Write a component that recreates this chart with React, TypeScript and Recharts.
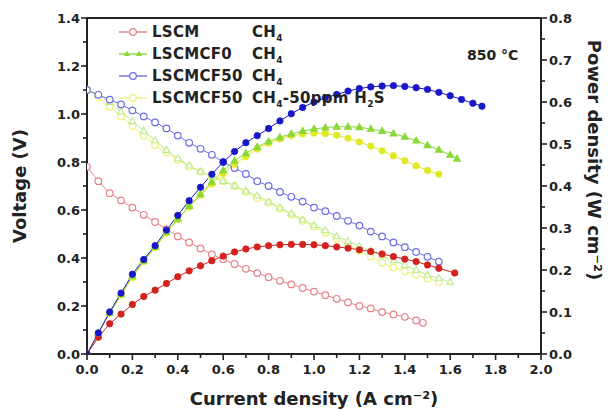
import {
  ComposedChart,
  Line,
  XAxis,
  YAxis,
  ReferenceLine,
  Legend,
  Customized,
} from "recharts"

const FONT = "'DejaVu Sans', sans-serif"
const INK = "#222"

// current density (A cm-2) and cell voltage (V)
const lscmVoltI = [0, 0.05, 0.1, 0.15, 0.2, 0.25, 0.3, 0.35, 0.4, 0.45, 0.5, 0.55, 0.6, 0.65, 0.7, 0.75, 0.8, 0.85, 0.9, 0.95, 1.0, 1.05, 1.1, 1.15, 1.2, 1.25, 1.3, 1.35, 1.4, 1.45, 1.48]
const lscmVolt = [0.78, 0.72, 0.67, 0.64, 0.61, 0.58, 0.55, 0.52, 0.49, 0.465, 0.44, 0.415, 0.395, 0.375, 0.355, 0.337, 0.32, 0.305, 0.29, 0.275, 0.26, 0.245, 0.23, 0.215, 0.2, 0.19, 0.175, 0.165, 0.155, 0.14, 0.13]

const cf0VoltI = [0, 0.05, 0.1, 0.15, 0.2, 0.25, 0.3, 0.35, 0.4, 0.45, 0.5, 0.55, 0.6, 0.65, 0.7, 0.75, 0.8, 0.85, 0.9, 0.95, 1.0, 1.05, 1.1, 1.15, 1.2, 1.25, 1.3, 1.35, 1.4, 1.45, 1.5, 1.55, 1.6]
const cf0Volt = [1.1, 1.08, 1.05, 1.01, 0.97, 0.93, 0.89, 0.85, 0.815, 0.785, 0.76, 0.74, 0.72, 0.7, 0.68, 0.66, 0.635, 0.61, 0.585, 0.56, 0.536, 0.515, 0.49, 0.47, 0.45, 0.43, 0.41, 0.39, 0.37, 0.35, 0.33, 0.315, 0.3]

const cf50VoltI = [0, 0.05, 0.1, 0.15, 0.2, 0.25, 0.3, 0.35, 0.4, 0.45, 0.5, 0.55, 0.6, 0.65, 0.7, 0.75, 0.8, 0.85, 0.9, 0.95, 1.0, 1.05, 1.1, 1.15, 1.2, 1.25, 1.3, 1.35, 1.4, 1.45, 1.5, 1.55]
const cf50Volt = [1.1, 1.08, 1.06, 1.04, 1.015, 0.99, 0.965, 0.94, 0.91, 0.88, 0.855, 0.83, 0.8, 0.775, 0.75, 0.72, 0.7, 0.675, 0.655, 0.635, 0.61, 0.595, 0.575, 0.555, 0.535, 0.51, 0.49, 0.465, 0.445, 0.425, 0.405, 0.385]

const h2sVoltI = [0, 0.05, 0.1, 0.15, 0.2, 0.25, 0.3, 0.35, 0.4, 0.45, 0.5, 0.55, 0.6, 0.65, 0.7, 0.75, 0.8, 0.85, 0.9, 0.95, 1.0, 1.05, 1.1, 1.15, 1.2, 1.25, 1.3, 1.35, 1.4, 1.45, 1.5, 1.55]
const h2sVolt = [1.1, 1.07, 1.03, 0.99, 0.95, 0.91, 0.87, 0.84, 0.81, 0.78, 0.76, 0.74, 0.72, 0.7, 0.675, 0.65, 0.63, 0.605, 0.58, 0.555, 0.53, 0.505, 0.48, 0.455, 0.43, 0.405, 0.38, 0.36, 0.345, 0.33, 0.315, 0.3]

// current density (A cm-2) and power density (W cm-2)
const lscmPowI = [0, 0.05, 0.1, 0.15, 0.2, 0.25, 0.3, 0.35, 0.4, 0.45, 0.5, 0.55, 0.6, 0.65, 0.7, 0.75, 0.8, 0.85, 0.9, 0.95, 1.0, 1.05, 1.1, 1.15, 1.2, 1.25, 1.3, 1.35, 1.4, 1.45, 1.5, 1.55, 1.62]
const lscmPow = [0, 0.04, 0.072, 0.095, 0.118, 0.137, 0.152, 0.168, 0.184, 0.198, 0.21, 0.222, 0.233, 0.243, 0.25, 0.255, 0.258, 0.26, 0.261, 0.261, 0.26, 0.258, 0.255, 0.252, 0.248, 0.244, 0.238, 0.232, 0.226, 0.22, 0.212, 0.204, 0.193]

const cf0PowI = [0, 0.05, 0.1, 0.15, 0.2, 0.25, 0.3, 0.35, 0.4, 0.45, 0.5, 0.55, 0.6, 0.65, 0.7, 0.75, 0.8, 0.85, 0.9, 0.95, 1.0, 1.05, 1.1, 1.15, 1.2, 1.25, 1.3, 1.35, 1.4, 1.45, 1.5, 1.55, 1.6, 1.63]
const cf0Pow = [0, 0.05, 0.098, 0.142, 0.185, 0.222, 0.255, 0.29, 0.322, 0.352, 0.38, 0.41, 0.437, 0.46, 0.478, 0.493, 0.506, 0.516, 0.524, 0.531, 0.536, 0.539, 0.541, 0.541, 0.54, 0.536, 0.531, 0.525, 0.517, 0.508, 0.497, 0.486, 0.474, 0.465]

const cf50PowI = [0, 0.05, 0.1, 0.15, 0.2, 0.25, 0.3, 0.35, 0.4, 0.45, 0.5, 0.55, 0.6, 0.65, 0.7, 0.75, 0.8, 0.85, 0.9, 0.95, 1.0, 1.05, 1.1, 1.15, 1.2, 1.25, 1.3, 1.35, 1.4, 1.45, 1.5, 1.55, 1.6, 1.65, 1.7, 1.74]
const cf50Pow = [0, 0.05, 0.1, 0.145, 0.19, 0.225, 0.258, 0.295, 0.33, 0.365, 0.397, 0.428, 0.457, 0.482, 0.503, 0.52, 0.537, 0.555, 0.572, 0.587, 0.6, 0.61, 0.618, 0.626, 0.632, 0.636, 0.638, 0.639, 0.637, 0.634, 0.63, 0.623, 0.615, 0.606, 0.597, 0.59]

const h2sPowI = [0, 0.05, 0.1, 0.15, 0.2, 0.25, 0.3, 0.35, 0.4, 0.45, 0.5, 0.55, 0.6, 0.65, 0.7, 0.75, 0.8, 0.85, 0.9, 0.95, 1.0, 1.05, 1.1, 1.15, 1.2, 1.25, 1.3, 1.35, 1.4, 1.45, 1.5, 1.55]
const h2sPow = [0, 0.05, 0.097, 0.14, 0.182, 0.22, 0.254, 0.288, 0.32, 0.35, 0.378, 0.405, 0.43, 0.452, 0.47, 0.488, 0.502, 0.512, 0.52, 0.524, 0.526, 0.525, 0.521, 0.514, 0.505, 0.495, 0.484, 0.472, 0.46, 0.448, 0.437, 0.428]

// axis ticks (minor ones get no label)
const currentTicks = [0, 0.1, 0.2, 0.3, 0.4, 0.5, 0.6, 0.7, 0.8, 0.9, 1.0, 1.1, 1.2, 1.3, 1.4, 1.5, 1.6, 1.7, 1.8, 1.9, 2.0]
const voltTicks = [0, 0.1, 0.2, 0.3, 0.4, 0.5, 0.6, 0.7, 0.8, 0.9, 1.0, 1.1, 1.2, 1.3, 1.4]
const powerTicks = [0, 0.05, 0.1, 0.15, 0.2, 0.25, 0.3, 0.35, 0.4, 0.45, 0.5, 0.55, 0.6, 0.65, 0.7, 0.75, 0.8]

const legendNames = ["LSCM", "LSCMCF0", "LSCMCF50", "LSCMCF50"]

const colors = {
  lscm: "#d2221e",
  lscmOpen: "#e4848a",
  cf0: "#8ad83a",
  cf0Open: "#b8ec88",
  cf50: "#1818c8",
  cf50Open: "#6e6ee4",
  h2s: "#e0ea24",
  h2sOpen: "#eef27c",
}

const toPoints = (xs: number[], ys: number[]) =>
  xs.map((x, i) => ({ i: x, y: ys[i] }))

const isMajor = (v: number, step: number) =>
  Math.abs(v / step - Math.round(v / step)) < 1e-6

const openCircle = (color: string) => (p: any) => (
  <circle key={p.index} cx={p.cx} cy={p.cy} r={3.3} fill="#fff" stroke={color} strokeWidth={1.2} />
)

const filledCircle = (color: string) => (p: any) => (
  <circle key={p.index} cx={p.cx} cy={p.cy} r={3.2} fill={color} stroke={color} strokeWidth={0.8} />
)

const triangle = (color: string, open: boolean) => (p: any) => (
  <path
    key={p.index}
    d={`M${p.cx},${p.cy - 3.6}L${p.cx + 3.4},${p.cy + 2.4}L${p.cx - 3.4},${p.cy + 2.4}Z`}
    fill={open ? "#fff" : color}
    stroke={color}
    strokeWidth={1.1}
  />
)

function BottomTick({ x, y, payload }: any) {
  const major = isMajor(payload.value, 0.2)
  return (
    <g>
      <line x1={x} x2={x} y1={y} y2={y + (major ? 6 : 4)} stroke={INK} strokeWidth={1.6} />
      {major && (
        <text x={x} y={y + 20} textAnchor="middle" fontFamily={FONT} fontWeight="bold" fontSize={13} fill={INK}>
          {payload.value.toFixed(1)}
        </text>
      )}
    </g>
  )
}

function LeftTick({ x, y, payload }: any) {
  const major = isMajor(payload.value, 0.2)
  return (
    <g>
      <line x1={x} x2={x - (major ? 6 : 4)} y1={y} y2={y} stroke={INK} strokeWidth={1.6} />
      {major && (
        <text x={x - 7} y={y + 5} textAnchor="end" fontFamily={FONT} fontWeight="bold" fontSize={13} fill={INK}>
          {payload.value.toFixed(1)}
        </text>
      )}
    </g>
  )
}

function RightTick({ x, y, payload }: any) {
  const major = isMajor(payload.value, 0.1)
  return (
    <g>
      <line x1={x} x2={x + (major ? 6 : 4)} y1={y} y2={y} stroke={INK} strokeWidth={1.6} />
      {major && (
        <text x={x + 8} y={y + 5} textAnchor="start" fontFamily={FONT} fontWeight="bold" fontSize={13} fill={INK}>
          {payload.value.toFixed(1)}
        </text>
      )}
    </g>
  )
}

function Sample({ color, shape }: { color: string; shape: "circle" | "tri" }) {
  return (
    <svg width={30} height={12} style={{ flex: "none" }}>
      <line x1={1} x2={29} y1={6} y2={6} stroke={color} strokeWidth={1.4} />
      {shape === "circle" ? (
        <circle cx={15} cy={6} r={3.3} fill="#fff" stroke={color} strokeWidth={1.3} />
      ) : (
        <>
          <path d="M9,2.5L12,8L6,8Z" fill={color} />
          <path d="M21,2.5L24,8L18,8Z" fill={color} />
        </>
      )}
    </svg>
  )
}

const sub = (t: string) => (
  <span style={{ fontSize: 9, position: "relative", top: 4 }}>{t}</span>
)

function LegendBox() {
  const rows = [
    { color: colors.lscmOpen, shape: "circle" as const, gas: <>CH{sub("4")}</> },
    { color: colors.cf0, shape: "tri" as const, gas: <>CH{sub("4")}</> },
    { color: colors.cf50Open, shape: "circle" as const, gas: <>CH{sub("4")}</> },
    { color: colors.h2sOpen, shape: "circle" as const, gas: <>CH{sub("4")}-50ppm H{sub("2")}S</> },
  ]
  return (
    <div style={{ fontFamily: FONT, fontWeight: "bold", fontSize: 15, color: INK, letterSpacing: 0.3 }}>
      {rows.map((r, k) => (
        <div key={k} style={{ display: "flex", alignItems: "center", height: 22, whiteSpace: "nowrap" }}>
          <Sample color={r.color} shape={r.shape} />
          <span style={{ marginLeft: 4, width: 100, display: "inline-block" }}>{legendNames[k]}</span>
          <span>{r.gas}</span>
        </div>
      ))}
    </div>
  )
}

function Titles() {
  const t = { fontFamily: FONT, fontWeight: "bold", fill: INK } as const
  return (
    <g>
      <text {...t} fontSize={18} textAnchor="middle" transform="translate(26,186) rotate(-90)">
        Voltage (V)
      </text>
      <text {...t} fontSize={18} x={314} y={405} textAnchor="middle">
        Current density (A cm⁻²)
      </text>
      <text {...t} fontSize={18} textAnchor="middle" transform="translate(588,160) rotate(90)">
        Power density (W cm⁻²)
      </text>
      <text {...t} fontSize={14} x={467} y={60}>
        850 °C
      </text>
    </g>
  )
}

export default function App() {
  return (
    <div style={{ width: 608, height: 412 }}>
      <style>{"body{margin:0}"}</style>
      <ComposedChart width={608} height={412} margin={{ top: 18, right: 17, bottom: 28, left: 27 }}>
        <XAxis
          dataKey="i"
          type="number"
          domain={[0, 2]}
          ticks={currentTicks}
          interval={0}
          height={30}
          tickSize={0}
          tickMargin={0}
          tick={<BottomTick />}
          axisLine={{ stroke: INK, strokeWidth: 2 }}
          allowDataOverflow
        />
        <YAxis
          yAxisId="v"
          type="number"
          domain={[0, 1.4]}
          ticks={voltTicks}
          interval={0}
          width={60}
          tickSize={0}
          tickMargin={0}
          tick={<LeftTick />}
          axisLine={{ stroke: INK, strokeWidth: 2 }}
          allowDataOverflow
        />
        <YAxis
          yAxisId="p"
          orientation="right"
          type="number"
          domain={[0, 0.8]}
          ticks={powerTicks}
          interval={0}
          width={50}
          tickSize={0}
          tickMargin={0}
          tick={<RightTick />}
          axisLine={{ stroke: INK, strokeWidth: 2 }}
          allowDataOverflow
        />
        <ReferenceLine yAxisId="v" y={1.4} stroke={INK} strokeWidth={2} />

        <Line yAxisId="v" data={toPoints(lscmVoltI, lscmVolt)} dataKey="y" type="linear" stroke={colors.lscmOpen} strokeWidth={1} dot={openCircle(colors.lscmOpen)} isAnimationActive={false} legendType="none" />
        <Line yAxisId="v" data={toPoints(h2sVoltI, h2sVolt)} dataKey="y" type="linear" stroke={colors.h2sOpen} strokeWidth={1} dot={openCircle(colors.h2sOpen)} isAnimationActive={false} legendType="none" />
        <Line yAxisId="v" data={toPoints(cf0VoltI, cf0Volt)} dataKey="y" type="linear" stroke={colors.cf0Open} strokeWidth={1} dot={triangle(colors.cf0Open, true)} isAnimationActive={false} legendType="none" />
        <Line yAxisId="v" data={toPoints(cf50VoltI, cf50Volt)} dataKey="y" type="linear" stroke={colors.cf50Open} strokeWidth={1} dot={openCircle(colors.cf50Open)} isAnimationActive={false} legendType="none" />

        <Line yAxisId="p" data={toPoints(lscmPowI, lscmPow)} dataKey="y" type="linear" stroke={colors.lscm} strokeWidth={1} dot={filledCircle(colors.lscm)} isAnimationActive={false} legendType="none" />
        <Line yAxisId="p" data={toPoints(h2sPowI, h2sPow)} dataKey="y" type="linear" stroke={colors.h2s} strokeWidth={1} dot={filledCircle(colors.h2s)} isAnimationActive={false} legendType="none" />
        <Line yAxisId="p" data={toPoints(cf0PowI, cf0Pow)} dataKey="y" type="linear" stroke={colors.cf0} strokeWidth={1} dot={triangle(colors.cf0, false)} isAnimationActive={false} legendType="none" />
        <Line yAxisId="p" data={toPoints(cf50PowI, cf50Pow)} dataKey="y" type="linear" stroke={colors.cf50} strokeWidth={1} dot={filledCircle(colors.cf50)} isAnimationActive={false} legendType="none" />

        <Legend
          layout="vertical"
          align="center"
          verticalAlign="middle"
          content={<LegendBox />}
          wrapperStyle={{ left: 118, top: 21, width: 320 }}
        />
        <Customized component={Titles} />
      </ComposedChart>
    </div>
  )
}
